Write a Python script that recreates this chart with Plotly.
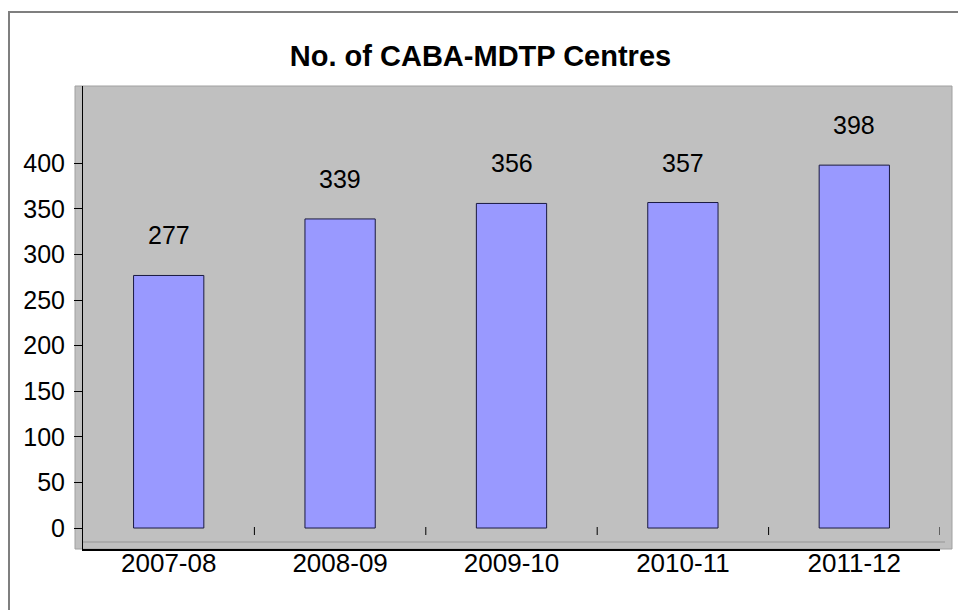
import plotly.graph_objects as go

categories = ["2007-08", "2008-09", "2009-10", "2010-11", "2011-12"]
centres = [277, 339, 356, 357, 398]
y_ticks = [0, 50, 100, 150, 200, 250, 300, 350, 400]

FONT = "Arial, Liberation Sans, sans-serif"
W, H = 958, 610
L, R, T, B = 83, 18, 86, 61
PW, PH = W - L - R, H - T - B


def px_x(px):
    return (px - L) / PW


def px_y(py):
    return (H - B - py) / PH


fig = go.Figure()
fig.add_trace(go.Bar(
    x=list(range(len(categories))), y=centres, width=0.41,
    marker=dict(color="#9999FF", line=dict(color="#1a1a40", width=1)),
    hovertext=categories, hoverinfo="text+y",
))

for i, v in enumerate(centres):
    fig.add_annotation(x=i, y=v, text=str(v), showarrow=False, yshift=40,
                       yanchor="middle", font=dict(family=FONT, size=25, color="black"))

shapes = [
    # gray back wall (slightly larger than axis area)
    dict(type="rect", xref="paper", yref="paper", x0=px_x(75), x1=px_x(952), y0=0, y1=1,
         fillcolor="#C0C0C0", line=dict(color="#A0A0A0", width=1), layer="below"),
    # floor line
    dict(type="line", xref="paper", yref="paper", x0=0, x1=px_x(945), y0=px_y(542), y1=px_y(542),
         line=dict(color="#A4A4A4", width=1.5), layer="below"),
    # outer chart border
    dict(type="rect", xref="paper", yref="paper", x0=px_x(9), x1=px_x(975), y0=px_y(630), y1=px_y(12),
         line=dict(color="#7F7F7F", width=2), fillcolor="rgba(0,0,0,0)", layer="below"),
]
# category-boundary tick marks drawn on the floor level (3D-style axis)
for i in range(1, len(categories) + 1):
    shapes.append(dict(type="line", xref="x", yref="paper", x0=i - 0.5, x1=i - 0.5,
                       y0=px_y(535), y1=px_y(527), line=dict(color="black", width=1)))

fig.update_layout(
    width=W, height=H,
    margin=dict(l=L, r=R, t=T, b=B, pad=0),
    paper_bgcolor="white", plot_bgcolor="#C0C0C0",
    showlegend=False,
    shapes=shapes,
    title=dict(text="<b>No. of CABA-MDTP Centres</b>", x=480.5 / W, xanchor="center",
               y=1 - 56 / H, yanchor="middle", yref="container",
               font=dict(family=FONT, size=29, color="black")),
    xaxis=dict(
        range=[-0.5, 4.5], tickvals=list(range(len(categories))), ticktext=categories,
        showline=True, linecolor="black", linewidth=1.5, ticks="",
        showgrid=False, zeroline=False, ticklabelstandoff=-10,
        tickfont=dict(family=FONT, size=26, color="black"),
    ),
    yaxis=dict(
        range=[-23, 484.8], tickvals=y_ticks, showline=True, linecolor="black", linewidth=1,
        ticks="outside", ticklen=8, tickcolor="black", showgrid=False, zeroline=False,
        ticklabelstandoff=4, tickfont=dict(family=FONT, size=25, color="black"),
    ),
)

fig.write_html("out.html", config={"displayModeBar": False},
               post_script="document.body.style.margin='0';")
